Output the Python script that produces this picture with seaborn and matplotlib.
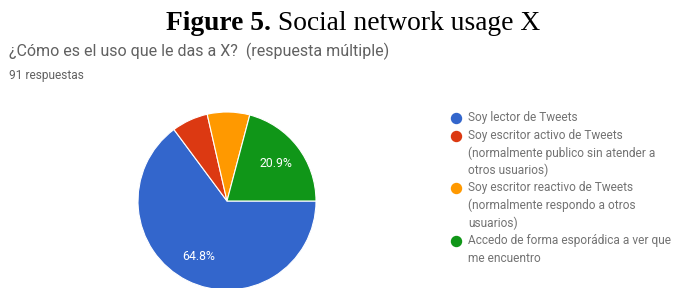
import matplotlib
matplotlib.use("Agg")
import matplotlib.pyplot as plt
import seaborn as sns

categories = [
    "Soy lector de Tweets",
    "Soy escritor activo de Tweets\n(normalmente publico sin atender a\notros usuarios)",
    "Soy escritor reactivo de Tweets\n(normalmente respondo a otros\nusuarios)",
    "Accedo de forma esporádica a ver que\nme encuentro",
]
counts = [59, 6, 7, 19]
colors = ["#3366cc", "#dc3912", "#ff9900", "#109618"]
title_bold = "Figure 5."
title_rest = " Social network usage X"
question = "¿Cómo es el uso que le das a X?  (respuesta múltiple)"
responses = "91 respuestas"

sns.set_theme(style="white")
plt.rcParams['font.family'] = ['Roboto', 'DejaVu Sans']

W, H = 675, 288
fig = plt.figure(figsize=(W / 100, H / 100), dpi=100)
renderer = fig.canvas.get_renderer()

# overlay axes in pixel coordinates for text/legend layout
ov = fig.add_axes([0, 0, 1, 1])
ov.set_xlim(0, W)
ov.set_ylim(H, 0)
ov.axis("off")


def fit_size(text, width_px, **kw):
    t = ov.text(0, 0, text, fontsize=10, **kw)
    w = t.get_window_extent(renderer).width
    t.remove()
    return 10 * width_px / w


# pie axes: center (227, 201) px, radius 89 px
cx, cy, r = 227, 201, 89
ax = fig.add_axes([(cx - r) / W, (H - cy - r) / H, 2 * r / W, 2 * r / H])

lab_size = fit_size("64.8%", 33)


def fmt(p):
    return f"{p:.1f}%" if p > 15 else ""


wedges, texts, autotexts = ax.pie(
    counts, colors=colors, startangle=0, counterclock=False,
    autopct=fmt, pctdistance=0.7,
    wedgeprops=dict(edgecolor="white", linewidth=0.8),
    textprops=dict(color="white", fontsize=lab_size),
)
ax.set_xlim(-1, 1)
ax.set_ylim(-1, 1)
ax.set_aspect("equal")
ax.axis("off")
for w in wedges:
    w.set_clip_on(False)

# title (serif, bold part + regular part), spanning ~166..540 px
tb = ov.text(0, 0, title_bold, fontsize=10, family="Liberation Serif", fontweight="bold")
tr = ov.text(0, 0, title_rest, fontsize=10, family="Liberation Serif")
wtot = tb.get_window_extent(renderer).width + tr.get_window_extent(renderer).width
tb.remove(); tr.remove()
tsize = 10 * 374 / wtot
t1 = ov.text(166, 24, title_bold, fontsize=tsize, fontweight="bold",
             family="Liberation Serif", va="center", ha="left", color="black")
x1 = 166 + t1.get_window_extent(renderer).width
ov.text(x1, 24, title_rest, fontsize=tsize, family="Liberation Serif",
        va="center", ha="left", color="black")

qsize = fit_size(question, 380)
ov.text(9, 51, question, fontsize=qsize, color="#616161", va="center", ha="left")
rsize = fit_size(responses, 75)
ov.text(9, 76, responses, fontsize=rsize, color="#616161", va="center", ha="left")

# legend
lsize = fit_size("(normalmente publico sin atender a", 188)
line_h = 17.5
y = 118
for cat, col in zip(categories, colors):
    ov.plot([456], [y], marker="o", markersize=7.2, color=col, linestyle="")
    for line in cat.split("\n"):
        ov.text(468, y, line, fontsize=lsize, color="#737373", va="center", ha="left")
        y += line_h

fig.savefig("out.png", dpi=100)
